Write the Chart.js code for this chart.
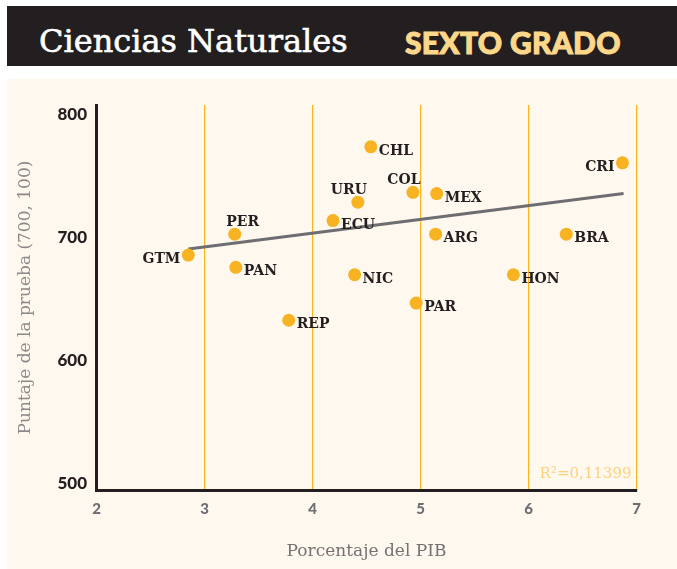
<!DOCTYPE html>
<html>
<head>
<meta charset="utf-8">
<script src="https://cdn.jsdelivr.net/npm/chart.js@4"></script>
<style>
  body { margin: 0; background: #fff; width: 677px; height: 569px; position: relative; overflow: hidden; }
  .bar { position: absolute; left: 7px; top: 6px; width: 670px; height: 60px; background: #231f20; }
  .titulo { position: absolute; left: 32px; top: 19px; font: 32px/32px "DejaVu Serif", serif; color: #fff; white-space: nowrap; -webkit-text-stroke: 0.6px #fff; }
  .grado { position: absolute; left: 398px; top: 21px; font: 900 30px/30px Lato, sans-serif; color: #fdd88a; white-space: nowrap; letter-spacing: 0.3px; -webkit-text-stroke: 1px #fdd88a; }
  .panel { position: absolute; left: 7px; top: 79px; width: 670px; height: 490px; background: #fef8ef; }
  canvas { position: absolute; left: 0; top: 0; }
</style>
</head>
<body>
<div class="bar">
  <span class="titulo">Ciencias Naturales</span>
  <span class="grado">SEXTO GRADO</span>
</div>
<div class="panel">
  <canvas id="grafico" width="670" height="490"></canvas>
</div>
<script>
// datos
const paises = ["GTM", "PER", "PAN", "REP", "ECU", "URU", "CHL", "COL", "MEX", "ARG", "NIC", "PAR", "HON", "BRA", "CRI"];
const gastoPIB = [2.85, 3.28, 3.29, 3.78, 4.19, 4.42, 4.54, 4.93, 5.15, 5.14, 4.39, 4.96, 5.86, 6.35, 6.87];
const puntaje = [686, 703, 676, 633, 714, 729, 774, 737, 736, 703, 670, 647, 670, 703, 761];
const tendenciaX = [2.85, 6.88];
const tendenciaY = [691, 736];
const ticksX = [2, 3, 4, 5, 6, 7];
const ticksY = [500, 600, 700, 800];
const textoR2 = "R²=0,11399";

// donde va cada etiqueta respecto al punto
const ladoEtiqueta = ["left", "aboveR", "right", "right", "right", "aboveL", "right", "aboveL", "right", "right", "right", "right", "right", "right", "left"];

const amarillo = "#f8b323";
const oscuro = "#231f20";

const puntos = paises.map((p, i) => ({ x: gastoPIB[i], y: puntaje[i] }));
const tendencia = tendenciaX.map((x, i) => ({ x: x, y: tendenciaY[i] }));

const etiquetas = {
  id: "etiquetas",
  afterDatasetsDraw(chart) {
    const ctx = chart.ctx;
    const meta = chart.getDatasetMeta(0);
    ctx.save();
    ctx.font = "bold 14px 'DejaVu Serif'";
    ctx.fillStyle = oscuro;
    ctx.textBaseline = "alphabetic";
    meta.data.forEach((pt, i) => {
      const lado = ladoEtiqueta[i];
      if (lado === "right") {
        ctx.textAlign = "left";
        ctx.fillText(paises[i], pt.x + 8, pt.y + 8);
      } else if (lado === "left") {
        ctx.textAlign = "right";
        ctx.fillText(paises[i], pt.x - 8, pt.y + 8);
      } else {
        ctx.textAlign = "center";
        const dx = lado === "aboveR" ? 8 : -9;
        ctx.fillText(paises[i], pt.x + dx, pt.y - 8);
      }
    });
    // R2
    const area = chart.chartArea;
    ctx.font = "15px 'DejaVu Serif'";
    ctx.fillStyle = "#fcd27c";
    ctx.textAlign = "right";
    ctx.fillText(textoR2, area.right - 5, area.bottom - 12);
    ctx.restore();
  }
};

new Chart(document.getElementById("grafico"), {
  type: "scatter",
  data: {
    datasets: [
      {
        data: puntos,
        backgroundColor: amarillo,
        borderWidth: 0,
        pointRadius: 6.5,
        pointHoverRadius: 6.5
      },
      {
        data: tendencia,
        showLine: true,
        borderColor: "#6d6e71",
        borderWidth: 3,
        pointRadius: 0
      }
    ]
  },
  options: {
    responsive: false,
    animation: false,
    layout: { padding: { left: 0, top: 26, right: 40.5, bottom: 0 } },
    plugins: {
      legend: { display: false },
      tooltip: { enabled: false }
    },
    scales: {
      x: {
        min: 2,
        max: 7,
        afterBuildTicks: (scale) => { scale.ticks = ticksX.map((v) => ({ value: v })); },
        afterFit: (scale) => { scale.height = 79; },
        grid: {
          drawTicks: false,
          lineWidth: 1.2,
          color: (c) => (c.tick && c.tick.value === 2 ? "rgba(0,0,0,0)" : "#f9b51b")
        },
        border: { display: true, color: oscuro, width: 3 },
        ticks: {
          padding: 10,
          color: "#6d6e71",
          font: { family: "Lato", weight: "900", size: 15 }
        },
        title: {
          display: true,
          text: "Porcentaje del PIB",
          color: "#737373",
          font: { family: "DejaVu Serif", size: 17 },
          padding: { top: 0, bottom: 7.5 }
        }
      },
      y: {
        min: 495,
        max: 808,
        afterBuildTicks: (scale) => { scale.ticks = ticksY.map((v) => ({ value: v })); },
        afterFit: (scale) => { scale.width = 89.5; },
        grid: { display: false, drawTicks: false },
        border: { display: true, color: oscuro, width: 3 },
        ticks: {
          padding: 9.5,
          color: oscuro,
          font: { family: "Lato", weight: "900", size: 17 }
        },
        title: {
          display: true,
          text: "Puntaje de la prueba (700, 100)",
          color: "#8a8a8a",
          font: { family: "DejaVu Serif", size: 17 },
          padding: { top: 8, bottom: 0 }
        }
      }
    }
  },
  plugins: [etiquetas]
});
</script>
</body>
</html>
